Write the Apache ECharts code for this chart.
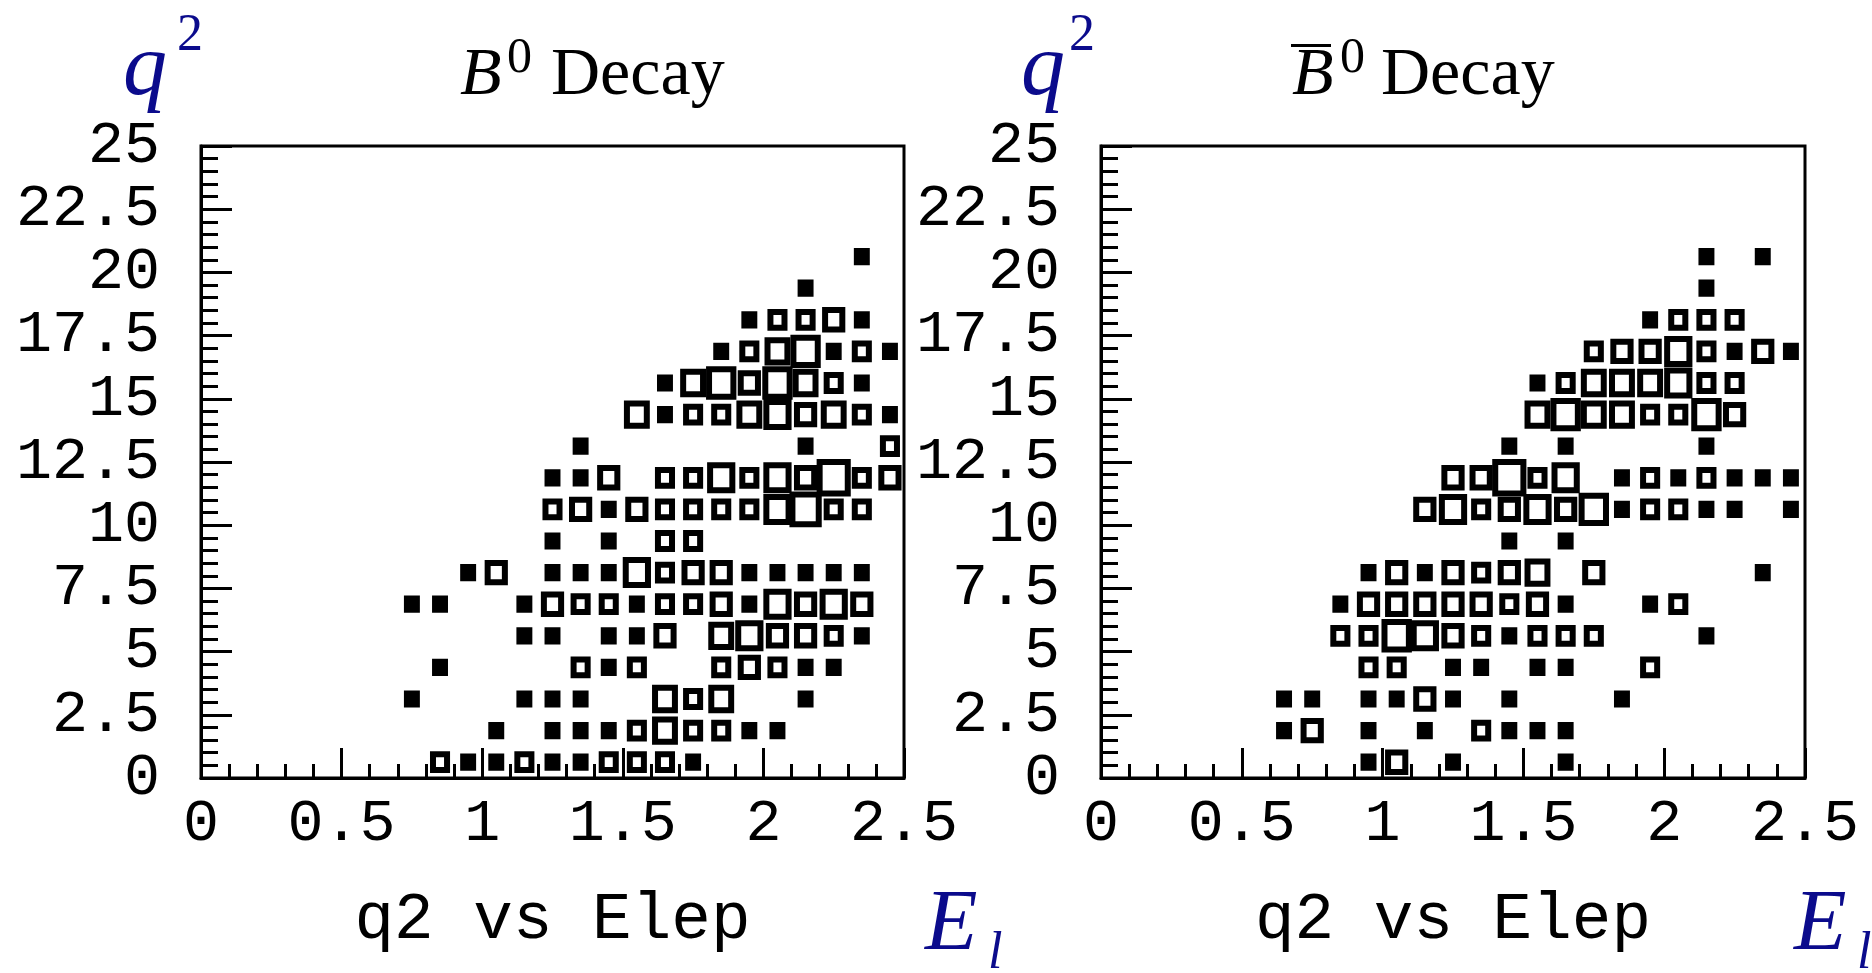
<!DOCTYPE html>
<html>
<head>
<meta charset="utf-8">
<script src="https://cdn.jsdelivr.net/npm/echarts@6/dist/echarts.min.js"></script>
<style>
html,body{margin:0;padding:0;background:#fff;}
#chart{width:1872px;height:973px;}
</style>
</head>
<body>
<div id="chart"></div>
<script>
// Histogram binning (bin widths) of both 2D histograms
const E_BIN = 0.1;      // E_l bin width
const Q2_BIN = 1.25;    // q^2 bin width

// Tick labels
const xTickLabels = ['0', '0.5', '1', '1.5', '2', '2.5'];
const yTickLabels = ['0', '2.5', '5', '7.5', '10', '12.5', '15', '17.5', '20', '22.5', '25'];

// Panel titles / axis titles
const panelTitles = ['B0 Decay', 'B0bar Decay'];
const xAxisTitle = 'q2 vs Elep';

// B0 decay: [E_l bin centre, q^2 bin centre, entries]
const b0Cells = [
  [0.85,0.625,2],[0.95,0.625,1],[1.05,0.625,1],[1.15,0.625,2],[1.25,0.625,1],[1.35,0.625,1],[1.45,0.625,2],[1.55,0.625,2],[1.65,0.625,2],[1.75,0.625,1],
  [1.05,1.875,1],[1.25,1.875,1],[1.35,1.875,1],[1.45,1.875,1],[1.55,1.875,2],[1.65,1.875,4],[1.75,1.875,2],[1.85,1.875,2],[1.95,1.875,1],[2.05,1.875,1],
  [0.75,3.125,1],[1.15,3.125,1],[1.25,3.125,1],[1.35,3.125,1],[1.65,3.125,4],[1.75,3.125,2],[1.85,3.125,4],[2.15,3.125,1],
  [0.85,4.375,1],[1.35,4.375,2],[1.45,4.375,1],[1.55,4.375,2],[1.85,4.375,2],[1.95,4.375,3],[2.05,4.375,2],[2.15,4.375,1],[2.25,4.375,1],
  [1.15,5.625,1],[1.25,5.625,1],[1.45,5.625,1],[1.55,5.625,1],[1.65,5.625,3],[1.85,5.625,4],[1.95,5.625,5],[2.05,5.625,3],[2.15,5.625,3],[2.25,5.625,2],[2.35,5.625,1],
  [0.75,6.875,1],[0.85,6.875,1],[1.15,6.875,1],[1.25,6.875,3],[1.35,6.875,2],[1.45,6.875,2],[1.55,6.875,1],[1.65,6.875,2],[1.75,6.875,2],[1.85,6.875,3],[1.95,6.875,1],[2.05,6.875,5],[2.15,6.875,3],[2.25,6.875,5],[2.35,6.875,3],
  [0.95,8.125,1],[1.05,8.125,3],[1.25,8.125,1],[1.35,8.125,1],[1.45,8.125,1],[1.55,8.125,5],[1.65,8.125,2],[1.75,8.125,3],[1.85,8.125,3],[1.95,8.125,1],[2.05,8.125,1],[2.15,8.125,1],[2.25,8.125,1],[2.35,8.125,1],
  [1.25,9.375,1],[1.45,9.375,1],[1.65,9.375,2],[1.75,9.375,2],
  [1.25,10.625,2],[1.35,10.625,3],[1.45,10.625,1],[1.55,10.625,3],[1.65,10.625,2],[1.75,10.625,2],[1.85,10.625,2],[1.95,10.625,2],[2.05,10.625,5],[2.15,10.625,7],[2.25,10.625,2],[2.35,10.625,2],
  [1.25,11.875,1],[1.35,11.875,1],[1.45,11.875,3],[1.65,11.875,2],[1.75,11.875,2],[1.85,11.875,5],[1.95,11.875,2],[2.05,11.875,5],[2.15,11.875,3],[2.25,11.875,8],[2.35,11.875,2],[2.45,11.875,3],
  [1.35,13.125,1],[2.15,13.125,1],[2.45,13.125,2],
  [1.55,14.375,4],[1.65,14.375,1],[1.75,14.375,2],[1.85,14.375,2],[1.95,14.375,4],[2.05,14.375,5],[2.15,14.375,3],[2.25,14.375,4],[2.35,14.375,2],[2.45,14.375,1],
  [1.65,15.625,1],[1.75,15.625,4],[1.85,15.625,6],[1.95,15.625,3],[2.05,15.625,6],[2.15,15.625,4],[2.25,15.625,2],[2.35,15.625,1],
  [1.85,16.875,1],[1.95,16.875,2],[2.05,16.875,4],[2.15,16.875,6],[2.25,16.875,1],[2.35,16.875,2],[2.45,16.875,1],
  [1.95,18.125,1],[2.05,18.125,2],[2.15,18.125,2],[2.25,18.125,3],[2.35,18.125,1],
  [2.15,19.375,1],
  [2.35,20.625,1]
];

// B0bar decay: [E_l bin centre, q^2 bin centre, entries]
const b0barCells = [
  [0.95,0.625,1],[1.05,0.625,3],[1.25,0.625,1],[1.65,0.625,1],
  [0.65,1.875,1],[0.75,1.875,3],[0.95,1.875,1],[1.15,1.875,1],[1.35,1.875,2],[1.45,1.875,1],[1.55,1.875,1],[1.65,1.875,1],
  [0.65,3.125,1],[0.75,3.125,1],[0.95,3.125,1],[1.05,3.125,1],[1.15,3.125,3],[1.25,3.125,1],[1.45,3.125,1],[1.85,3.125,1],
  [0.95,4.375,2],[1.05,4.375,2],[1.25,4.375,1],[1.35,4.375,1],[1.55,4.375,1],[1.65,4.375,1],[1.95,4.375,2],
  [0.85,5.625,2],[0.95,5.625,2],[1.05,5.625,6],[1.15,5.625,5],[1.25,5.625,3],[1.35,5.625,2],[1.45,5.625,1],[1.55,5.625,2],[1.65,5.625,2],[1.75,5.625,2],[2.15,5.625,1],
  [0.85,6.875,1],[0.95,6.875,3],[1.05,6.875,3],[1.15,6.875,3],[1.25,6.875,3],[1.35,6.875,3],[1.45,6.875,2],[1.55,6.875,3],[1.65,6.875,1],[1.95,6.875,1],[2.05,6.875,2],
  [0.95,8.125,1],[1.05,8.125,3],[1.15,8.125,1],[1.25,8.125,3],[1.35,8.125,2],[1.45,8.125,3],[1.55,8.125,4],[1.75,8.125,3],[2.35,8.125,1],
  [1.45,9.375,1],[1.65,9.375,1],
  [1.15,10.625,3],[1.25,10.625,5],[1.35,10.625,2],[1.45,10.625,3],[1.55,10.625,5],[1.65,10.625,3],[1.75,10.625,6],[1.85,10.625,1],[1.95,10.625,2],[2.05,10.625,2],[2.15,10.625,1],[2.25,10.625,1],[2.45,10.625,1],
  [1.25,11.875,3],[1.35,11.875,3],[1.45,11.875,8],[1.55,11.875,2],[1.65,11.875,5],[1.85,11.875,1],[1.95,11.875,2],[2.05,11.875,1],[2.15,11.875,2],[2.25,11.875,1],[2.35,11.875,1],[2.45,11.875,1],
  [1.45,13.125,1],[1.65,13.125,1],[2.15,13.125,1],
  [1.55,14.375,4],[1.65,14.375,6],[1.75,14.375,4],[1.85,14.375,4],[1.95,14.375,2],[2.05,14.375,2],[2.15,14.375,6],[2.25,14.375,3],
  [1.55,15.625,1],[1.65,15.625,2],[1.75,15.625,4],[1.85,15.625,4],[1.95,15.625,4],[2.05,15.625,5],[2.15,15.625,2],[2.25,15.625,2],
  [1.75,16.875,2],[1.85,16.875,3],[1.95,16.875,3],[2.05,16.875,5],[2.15,16.875,2],[2.25,16.875,1],[2.35,16.875,3],[2.45,16.875,1],
  [1.95,18.125,1],[2.05,18.125,2],[2.15,18.125,2],[2.25,18.125,2],
  [2.15,19.375,1],
  [2.15,20.625,1],[2.35,20.625,1]
];

const cMax = Math.max(...b0Cells.map(d => d[2]), ...b0barCells.map(d => d[2]));

const chart = echarts.init(document.getElementById('chart'), null, {renderer: 'canvas'});

function renderBox(params, api) {
  const c = api.value(2);
  const center = api.coord([api.value(0), api.value(1)]);
  const bin = api.size([E_BIN, Q2_BIN]);
  const f = Math.sqrt(c / cMax);
  const w = bin[0] * f, h = bin[1] * f;
  return {
    type: 'rect',
    shape: {x: center[0] - w / 2, y: center[1] - h / 2, width: w, height: h},
    style: {fill: c <= 1 ? '#000' : '#fff', stroke: '#000', lineWidth: 6}
  };
}

const MONO = '"Liberation Mono", "DejaVu Sans Mono", monospace';
const SERIF = '"Liberation Serif", "DejaVu Serif", serif';
const NAVY = '#0b0b8c';

function xAxisCfg(i) {
  return {
    gridIndex: i, type: 'value', min: 0, max: 2.5, interval: 0.5,
    axisLine: {show: true, onZero: false, lineStyle: {color: '#000', width: 3}},
    axisTick: {show: true, inside: true, length: 30, lineStyle: {color: '#000', width: 3}},
    minorTick: {show: true, splitNumber: 5, length: 14, lineStyle: {color: '#000', width: 3}},
    splitLine: {show: false}, minorSplitLine: {show: false},
    axisLabel: {margin: 16, color: '#000', fontFamily: MONO, fontSize: 60,
      formatter: (v) => xTickLabels[Math.round(v / 0.5)]},
    name: xAxisTitle, nameLocation: 'middle', nameGap: 110,
    nameTextStyle: {color: '#000', fontFamily: MONO, fontSize: 66}
  };
}
function yAxisCfg(i) {
  return {
    gridIndex: i, type: 'value', min: 0, max: 25, interval: 2.5,
    axisLine: {show: true, onZero: false, lineStyle: {color: '#000', width: 3}},
    axisTick: {show: true, inside: true, length: 31, lineStyle: {color: '#000', width: 3}},
    minorTick: {show: true, splitNumber: 5, length: 17, lineStyle: {color: '#000', width: 3}},
    splitLine: {show: false}, minorSplitLine: {show: false},
    axisLabel: {margin: 41, color: '#000', fontFamily: MONO, fontSize: 60,
      formatter: (v) => yTickLabels[Math.round(v / 2.5)]}
  };
}

function txt(text, x, baseline, size, opts) {
  opts = opts || {};
  const style = opts.style || 'normal';
  return {
    type: 'text', x: x, y: baseline - 0.3375 * size, silent: true,
    style: {text: text, font: style + ' ' + size + 'px ' + SERIF, fill: opts.color || '#000',
      align: 'left', verticalAlign: 'middle'}
  };
}

const option = {
  animation: false,
  backgroundColor: '#fff',
  grid: [
    {left: 201, top: 146, width: 703, height: 632, show: true, borderColor: '#000', borderWidth: 3, backgroundColor: '#fff'},
    {left: 1101, top: 146, width: 704, height: 632, show: true, borderColor: '#000', borderWidth: 3, backgroundColor: '#fff'}
  ],
  xAxis: [xAxisCfg(0), xAxisCfg(1)],
  yAxis: [yAxisCfg(0), yAxisCfg(1)],
  series: [
    {type: 'custom', name: panelTitles[0], xAxisIndex: 0, yAxisIndex: 0, data: b0Cells, renderItem: renderBox, clip: true},
    {type: 'custom', name: panelTitles[1], xAxisIndex: 1, yAxisIndex: 1, data: b0barCells, renderItem: renderBox, clip: true}
  ],
  graphic: [
    // left panel labels
    txt('q', 123, 101, 88, {style: 'italic', color: NAVY}),
    txt('2', 177, 54, 52, {color: NAVY}),
    txt('B', 460, 99, 68, {style: 'italic'}),
    txt('0', 507, 76, 50),
    txt('Decay', 551, 99, 68),
    txt('E', 925, 955, 86, {style: 'italic', color: NAVY}),
    txt('l', 988, 972, 52, {style: 'italic', color: NAVY}),
    // right panel labels
    txt('q', 1021, 101, 88, {style: 'italic', color: NAVY}),
    txt('2', 1069, 54, 52, {color: NAVY}),
    txt('B', 1292, 99, 68, {style: 'italic'}),
    {type: 'rect', silent: true, shape: {x: 1291, y: 44, width: 40, height: 3}, style: {fill: '#000'}},
    txt('0', 1340, 76, 50),
    txt('Decay', 1381, 99, 68),
    txt('E', 1794, 955, 86, {style: 'italic', color: NAVY}),
    txt('l', 1857, 972, 52, {style: 'italic', color: NAVY})
  ]
};
chart.setOption(option);
</script>
</body>
</html>
